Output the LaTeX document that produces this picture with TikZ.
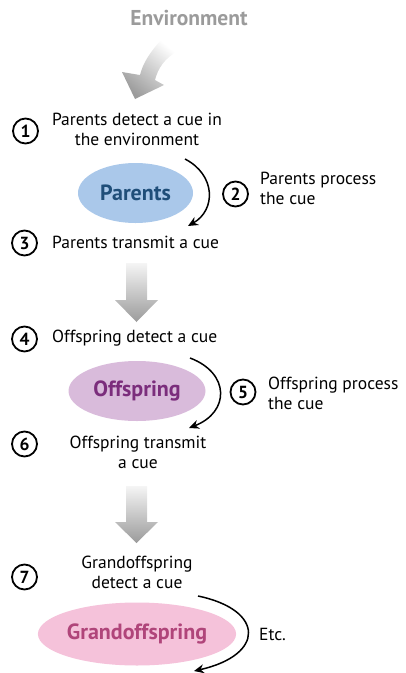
\documentclass[tikz,border=0pt]{standalone}
\usepackage{fontspec}
\setmainfont{PT Sans}
\usetikzlibrary{arrows.meta,shapes.geometric}
\definecolor{envgray}{HTML}{9B9B9B}
\definecolor{parfill}{HTML}{AAC8EA}
\definecolor{partext}{HTML}{1F4E79}
\definecolor{offfill}{HTML}{D9BBDB}
\definecolor{offtext}{HTML}{7B2D7C}
\definecolor{grfill}{HTML}{F5C2DA}
\definecolor{grtext}{HTML}{B0457A}
\begin{document}
\begin{tikzpicture}[x=1pt,y=-1pt,
 lbl/.style={font=\fontsize{17.5}{20}\selectfont, inner sep=0pt},
 num/.style={circle, draw, line width=1.8pt, minimum size=25pt, inner sep=0pt, font=\fontsize{17.5}{17}\selectfont\bfseries},
 blob/.style={ellipse, inner sep=0pt, font=\fontsize{22}{20}\selectfont\bfseries},
 cyc/.style={-{Stealth[length=10pt,width=9pt]}, line width=1.5pt},
 grayarrow/.style={top color=envgray!10, bottom color=envgray},
]
\useasboundingbox (0,0) rectangle (405,673);
% Environment
\node[font=\fontsize{21.5}{21}\selectfont\bfseries, text=envgray] (env) at (189,18) {Environment};
\shade[top color=white, bottom color=envgray, shading angle=-40]
  (162,39) .. controls (150,52) and (143,63) .. (140,75) -- (122,72) -- (135,99) -- (164,85) -- (155,80)
  .. controls (158,68) and (165,58) .. (178,51) -- cycle;
% Parents
\node[num] (n1) at (25.5,131) {1};
\node[lbl, align=center] (t1) at (137,129) {Parents detect a cue in\\the environment};
\node[blob, fill=parfill, text=partext, minimum width=115pt, minimum height=60pt] (par) at (135.5,193) {Parents};
\coordinate (p1) at (185,159);
\coordinate (p2) at (188,226);
\draw[cyc] (p1) .. controls (216,175) and (216,210) .. (p2);
\node[num] (n2) at (235.5,194) {2};
\node[lbl, align=left, anchor=west] (t2) at (260,188) {Parents process\\the cue};
\node[num] (n3) at (24.5,243) {3};
\node[lbl, anchor=west] (t3) at (52,242.5) {Parents transmit a cue};
% block arrow 1
\shade[grayarrow] (126,263) -- (147,263) -- (147,300) -- (158,300) -- (136.5,322) -- (115,300) -- (126,300) -- cycle;
% Offspring
\node[num] (n4) at (24.5,339) {4};
\node[lbl, anchor=west] (t4) at (52,338.5) {Offspring detect a cue};
\node[blob, fill=offfill, text=offtext, minimum width=137pt, minimum height=60pt] (off) at (137,391) {Offspring};
\coordinate (o1) at (190,358);
\coordinate (o2) at (189,428);
\draw[cyc] (o1) .. controls (230,373) and (230,412) .. (o2);
\node[num] (n5) at (243,392) {5};
\node[lbl, align=left, anchor=west] (t5) at (268,393) {Offspring process\\the cue};
\node[num] (n6) at (24.5,444) {6};
\node[lbl, align=center] (t6) at (138,452) {Offspring transmit\\a cue};
% block arrow 2
\shade[grayarrow] (126,486) -- (147,486) -- (147,522) -- (158,522) -- (136.5,543) -- (115,522) -- (126,522) -- cycle;
% Grandoffspring
\node[num] (n7) at (24.5,577) {7};
\node[lbl, align=center] (t7) at (137,572) {Grandoffspring\\detect a cue};
\node[blob, fill=grfill, text=grtext, minimum width=192pt, minimum height=63pt] (gr) at (137,634) {Grandoffspring};
\coordinate (g1) at (198,596);
\coordinate (g2) at (194,671);
\draw[cyc] (g1) .. controls (265,610) and (265,655) .. (g2);
\node[lbl, anchor=west] (etc) at (259,634) {Etc.};
\end{tikzpicture}
\end{document}
